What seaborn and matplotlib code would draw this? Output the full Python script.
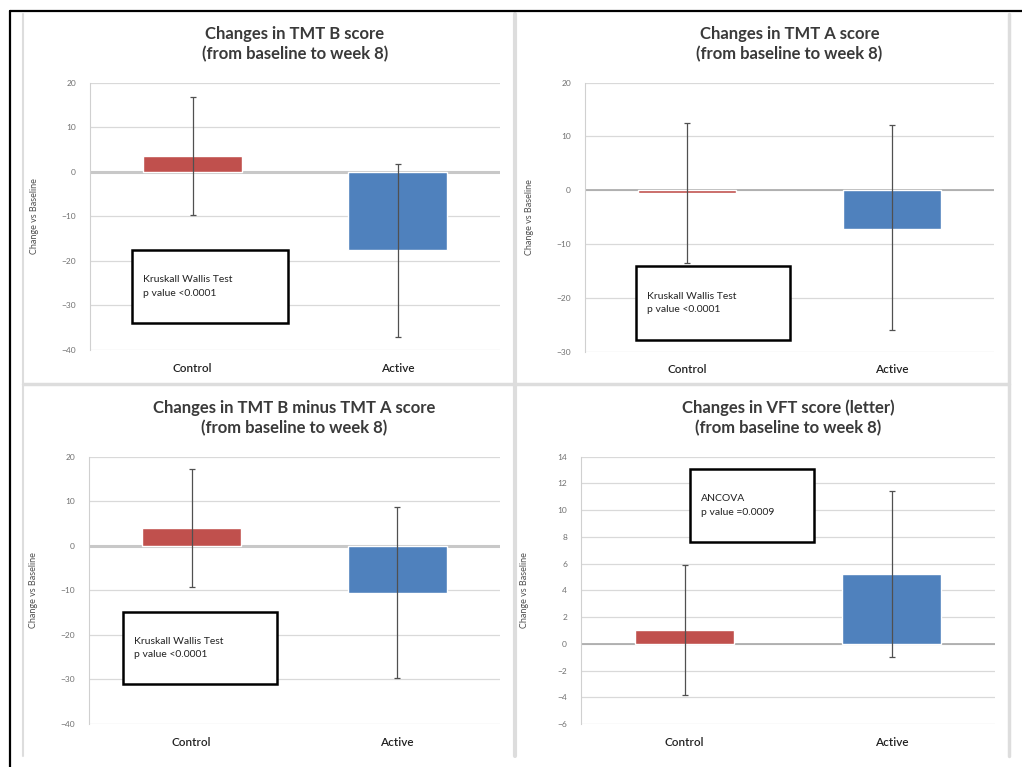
import matplotlib
matplotlib.use("Agg")
import matplotlib.pyplot as plt
from matplotlib.patches import Rectangle
from matplotlib.lines import Line2D
import seaborn as sns
import numpy as np

sns.set_style("white")
plt.rcParams['font.family'] = ['Lato', 'DejaVu Sans']

# Data
groups = ["Control", "Active"]

tmtb_mean = [3.5, -17.6]
tmtb_lo = [-9.8, -37.0]
tmtb_hi = [16.7, 1.7]

tmta_mean = [-0.5, -7.2]
tmta_lo = [-13.5, -26.0]
tmta_hi = [12.5, 12.1]

diff_mean = [4.0, -10.6]
diff_lo = [-9.2, -29.7]
diff_hi = [17.3, 8.8]

vft_mean = [1.0, 5.25]
vft_lo = [-3.85, -1.0]
vft_hi = [5.9, 11.45]

bar_colors = ["#C0504D", "#4F81BD"]

W, H = 1022, 767
fig = plt.figure(figsize=(W / 100, H / 100), dpi=100)


def px_axes(l, t, r, b):
    return fig.add_axes([l / W, 1 - b / H, (r - l) / W, (b - t) / H])


def panel(ax, title, mean, lo, hi, ylim, step, zero_lw, zero_col):
    ax.axhline(0, color=zero_col, lw=zero_lw, zorder=0.9)
    sns.barplot(x=groups, y=mean, hue=groups, palette=bar_colors, width=0.48,
                saturation=1, legend=False, ax=ax)
    for p in ax.patches:
        p.set_zorder(2)
    xs = np.arange(len(groups))
    m = np.array(mean)
    yerr = [m - np.array(lo), np.array(hi) - m]
    ax.errorbar(xs, m, yerr=yerr, fmt="none", ecolor="#505050", elinewidth=0.9,
                capsize=2.5, capthick=0.9, zorder=3)
    ax.set_xlim(-0.5, 1.5)
    ax.set_ylim(*ylim)
    ax.set_yticks(np.arange(ylim[0], ylim[1] + step / 2, step))
    ax.grid(axis="y", color="#D9D9D9", lw=0.9)
    ax.set_axisbelow(True)
    for s in ["top", "right", "bottom"]:
        ax.spines[s].set_visible(False)
    ax.spines["left"].set_color("#D0D0D0")
    ax.tick_params(axis="y", length=0, pad=10, labelsize=6, labelcolor="#707070")
    ax.tick_params(axis="x", length=0, pad=9, labelsize=8.5)
    for lab in ax.get_xticklabels():
        lab.set_fontweight("semibold")
        lab.set_color("#222222")
    ax.set_xlabel("")
    ax.set_ylabel("Change vs Baseline", fontsize=6.5, color="#505050")
    ax.yaxis.set_label_coords(-0.125, 0.5)
    ax.set_title(title, fontsize=12, fontweight="bold", color="#3A3A3A",
                 pad=17, linespacing=1.3)


ax1 = px_axes(90, 82.7, 500, 350)
panel(ax1, "Changes in TMT B score\n(from baseline to week 8)",
      tmtb_mean, tmtb_lo, tmtb_hi, (-40, 20), 10, 2.2, "#C8C8C8")

ax2 = px_axes(585, 82.7, 994, 351.7)
panel(ax2, "Changes in TMT A score\n(from baseline to week 8)",
      tmta_mean, tmta_lo, tmta_hi, (-30, 20), 10, 1.2, "#A8A8A8")

ax3 = px_axes(89, 456.7, 500, 724)
panel(ax3, "Changes in TMT B minus TMT A score\n(from baseline to week 8)",
      diff_mean, diff_lo, diff_hi, (-40, 20), 10, 2.2, "#C8C8C8")

ax4 = px_axes(581, 456.7, 995, 724)
panel(ax4, "Changes in VFT score (letter)\n(from baseline to week 8)",
      vft_mean, vft_lo, vft_hi, (-6, 14), 2, 1.2, "#A8A8A8")

# annotation boxes
boxes = [
    (132, 250, 288, 323, "Kruskall Wallis Test\np value <0.0001"),
    (636, 266, 790, 340, "Kruskall Wallis Test\np value <0.0001"),
    (123, 612, 277, 684, "Kruskall Wallis Test\np value <0.0001"),
    (690, 469, 814, 542, "ANCOVA\np value =0.0009"),
]
for x0, y0, x1, y1, txt in boxes:
    fig.add_artist(Rectangle((x0 / W, 1 - y1 / H), (x1 - x0) / W, (y1 - y0) / H,
                             transform=fig.transFigure, fill=True, fc="white",
                             ec="black", lw=1.8, zorder=5))
    fig.text((x0 + 11) / W, 1 - ((y0 + y1) / 2) / H, txt, fontsize=7.5,
             color="#222222", va="center", ha="left", linespacing=1.6, zorder=6)

# panel borders
gray = "#DDDDDD"
for xv, lw in [(23, 1.5), (515, 3), (1009, 2.5)]:
    fig.add_artist(Line2D([xv / W, xv / W], [1 - 14 / H, 1 - 756 / H],
                          color=gray, lw=lw, transform=fig.transFigure))
fig.add_artist(Line2D([23 / W, 1009 / W], [1 - 384 / H, 1 - 384 / H],
                      color=gray, lw=2.5, transform=fig.transFigure))
fig.add_artist(Line2D([10 / W, 10 / W], [1 - 11 / H, 0], color="black", lw=1.6,
                      transform=fig.transFigure))
fig.add_artist(Line2D([10 / W, 1], [1 - 11 / H, 1 - 11 / H], color="black", lw=1.6,
                      transform=fig.transFigure))

fig.savefig("out.png", dpi=100)
plt.close()
